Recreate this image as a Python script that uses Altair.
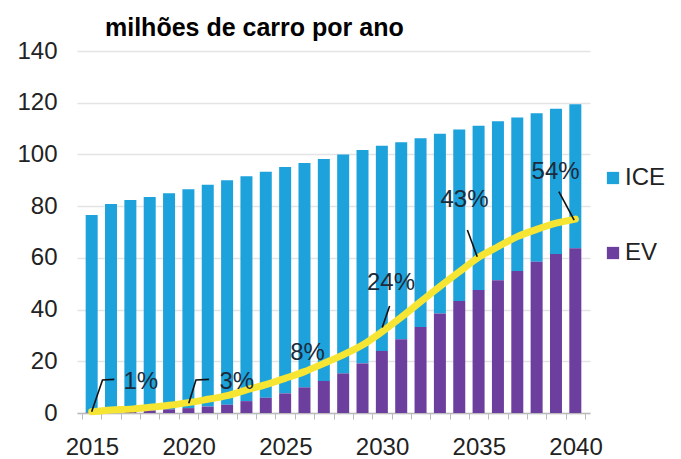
import altair as alt
import pandas as pd

years = list(range(2015, 2041))
ice = [76.4, 80.4, 81.7, 82.5, 83.6, 84.6, 85.8, 86.8, 87.0, 87.4, 87.5, 86.8, 85.8,
       84.7, 82.5, 79.4, 76.2, 73.0, 69.5, 66.3, 63.5, 61.5, 59.4, 57.4, 56.2, 55.7]
ev = [0.2, 0.4, 0.7, 1.0, 1.4, 1.9, 2.5, 3.2, 4.6, 5.9, 7.6, 9.9, 12.4,
      15.3, 19.2, 24.0, 28.5, 33.3, 38.5, 43.3, 47.6, 51.3, 54.9, 58.5, 61.5, 63.7]
share_curve = [0.5, 1.2, 1.5, 2.2, 3.0, 4.0, 5.3, 6.7, 8.9, 11.0, 13.4, 16.0, 19.2,
               22.5, 26.3, 31.4, 37.0, 43.0, 48.9, 54.6, 60.2, 64.3, 68.2, 71.0, 73.4, 75.0]

label_text = ["1%", "3%", "8%", "24%", "43%", "54%"]
label_x = [2017.54, 2022.5, 2026.16, 2030.47, 2034.27, 2038.98]
label_y = [12.0, 12.0, 23.2, 50.3, 82.4, 93.2]

leader_id = ["1%", "1%", "1%", "3%", "3%", "3%", "24%", "24%", "43%", "43%", "54%", "54%"]
leader_seq = [0, 1, 2, 0, 1, 2, 0, 1, 0, 1, 0, 1]
leader_x = [2015.0, 2015.56, 2016.17, 2020.02, 2020.39, 2021.07, 2030.4, 2030.02,
            2034.42, 2034.93, 2039.15, 2039.94]
leader_y = [0.5, 12.8, 13.0, 3.75, 12.8, 13.0, 41.4, 33.1, 70.8, 60.4, 85.6, 74.6]

series_names = ["ICE", "EV"]
series_colors = ["#1DA2DC", "#6C3F9E"]

bars = pd.DataFrame({
    "year": years * 2,
    "series": ["ICE"] * len(years) + ["EV"] * len(years),
    "value": ice + ev,
    "rank": [1] * len(years) + [0] * len(years),
})
curve = pd.DataFrame({"year": years, "value": share_curve})
labels = pd.DataFrame({"x": label_x, "y": label_y, "text": label_text})
leaders = pd.DataFrame({"id": leader_id, "seq": leader_seq, "x": leader_x, "y": leader_y})

FONT = "Liberation Sans"
xscale = alt.Scale(domain=[2014.5, 2040.5], nice=False, zero=False)
yscale = alt.Scale(domain=[0, 140], nice=False)

xaxis = alt.Axis(
    values=[2014.5 + i for i in range(27)],
    labelExpr="(datum.value + 0.5) % 5 == 0 ? toString(datum.value + 0.5) : ''",
    labelOffset=9.87, labelFlush=False, labelOverlap=False, labelBound=False,
    tickSize=6, tickColor="#bbbbbb", domainColor="#bbbbbb", domainWidth=1.5,
    labelFontSize=24, labelFont=FONT, labelColor="#222222", labelPadding=16,
    grid=False, title=None,
)
yaxis = alt.Axis(
    values=[0, 20, 40, 60, 80, 100, 120, 140], domain=False, ticks=False,
    labelFontSize=24, labelFont=FONT, labelColor="#222222", labelPadding=20,
    gridColor="#e4e4e4", gridWidth=1.5, title=None,
)

bar_layer = alt.Chart(bars).mark_bar(size=12).encode(
    x=alt.X("year:Q", scale=xscale, axis=xaxis),
    y=alt.Y("value:Q", stack="zero", scale=yscale, axis=yaxis),
    color=alt.Color("series:N", scale=alt.Scale(domain=series_names, range=series_colors),
                    legend=alt.Legend(title=None, orient="none", legendX=524, legendY=115,
                                      symbolType="square", symbolSize=150, symbolStrokeWidth=0,
                                      labelFontSize=24, labelFont=FONT, labelColor="#222222",
                                      labelOffset=0, rowPadding=51, padding=0)),
    order=alt.Order("rank:Q"),
)

line_layer = alt.Chart(curve).mark_line(color="#F6E533", strokeWidth=7,
                                        interpolate="monotone", strokeCap="round").encode(
    x=alt.X("year:Q", scale=xscale, axis=xaxis),
    y=alt.Y("value:Q", scale=yscale, axis=yaxis),
)

leader_layer = alt.Chart(leaders).mark_line(color="#111111", strokeWidth=1.6).encode(
    x=alt.X("x:Q", scale=xscale, axis=xaxis),
    y=alt.Y("y:Q", scale=yscale, axis=yaxis),
    detail="id:N",
    order="seq:Q",
)

text_layer = alt.Chart(labels).mark_text(fontSize=24, font=FONT, color="#1c2b3a",
                                         baseline="middle", align="center").encode(
    x=alt.X("x:Q", scale=xscale, axis=xaxis),
    y=alt.Y("y:Q", scale=yscale, axis=yaxis),
    text="text:N",
)

chart = alt.layer(bar_layer, line_layer, leader_layer, text_layer).properties(
    width=513, height=362,
    autosize="none",
    padding={"left": 69, "top": 43, "right": 80, "bottom": 45},
    title=alt.TitleParams("milhões de carro por ano", anchor="start", frame="group",
                          dx=28, dy=6, fontSize=25, font=FONT, fontWeight="bold",
                          color="#000000", offset=4),
).configure_view(stroke=None)

chart.save("out.html", embed_options={"renderer": "svg", "actions": False})
